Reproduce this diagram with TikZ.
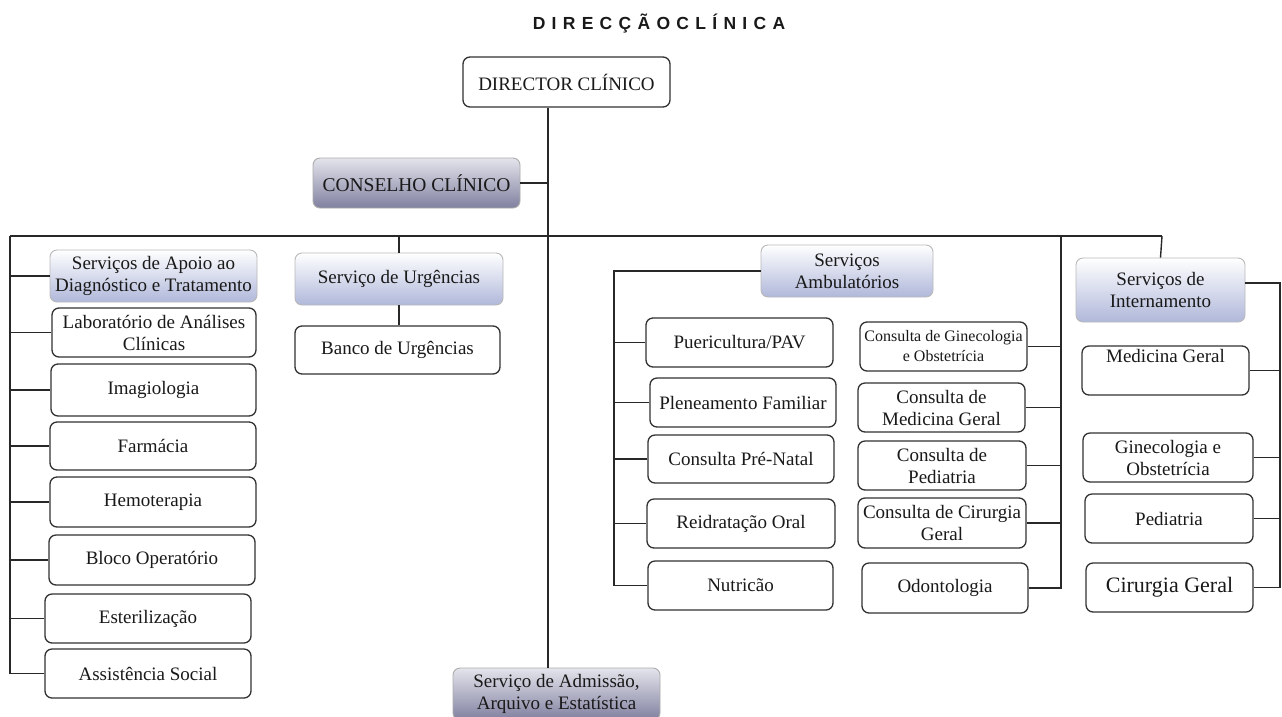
\documentclass[tikz,border=0pt]{standalone}
\usepackage{fontspec}
\setmainfont{Liberation Serif}
\newfontfamily\titlefont[LetterSpace=36]{Liberation Sans}
\definecolor{boxc}{RGB}{50,50,50}
\definecolor{linec}{RGB}{40,40,40}
\definecolor{txtc}{RGB}{25,25,25}
\definecolor{shadeL}{RGB}{176,184,218}
\definecolor{shadeDtop}{RGB}{228,228,236}
\definecolor{shadeD}{RGB}{128,128,160}
\tikzset{
  box/.style={draw=boxc, line width=1.3pt, rounded corners=7pt, fill=white,
    align=center, text=txtc, font=\fontsize{19}{22}\selectfont, inner sep=2pt},
  shlight/.style={box, draw=gray!55, line width=0.9pt, top color=white, bottom color=shadeL},
  shdark/.style={box, draw=gray!65, line width=0.9pt, top color=shadeDtop, bottom color=shadeD},
  conn/.style={draw=linec, line width=1.4pt},
}
\begin{document}
\begin{tikzpicture}[x=1pt,y=-1pt]
\useasboundingbox (0,0) rectangle (1282,716);
\clip (0,0) rectangle (1282,716);
\fill[white] (0,0) rectangle (1282,716);

% title
\node[text=txtc, font=\titlefont\bfseries\fontsize{17.5}{19}\selectfont] (title) at (659,24) {DIRECÇÃOCLÍNICA};

% top
\node[box, minimum width=207pt, minimum height=50pt] (director) at (566.5,82) {DIRECTOR CLÍNICO};
\node[shdark, minimum width=207pt, minimum height=50pt, font=\fontsize{19.5}{22}\selectfont] (conselho) at (416.5,183) {CONSELHO CLÍNICO};
\node[shdark, minimum width=207pt, minimum height=52pt] (admissao) at (556.5,694) {Serviço de Admissão,\\Arquivo e Estatística};

% coordinates for the trunk and bus
\coordinate (spine) at (548,236);
\coordinate (busL) at (10,236);
\coordinate (busR) at (1162,236);
\coordinate (ambL) at (614,271);
\coordinate (ambR) at (1061,236);
\coordinate (intR) at (1280,283);

% left column
\node[shlight, minimum width=207pt, minimum height=52pt] (apoio) at (153.5,276) {Serviços de Apoio ao\\Diagnóstico e Tratamento};
\node[box, minimum width=204pt, minimum height=49pt] (lab) at (154,332.5) {Laboratório de Análises\\Clínicas};
\node[box, minimum width=205pt, minimum height=52pt] (imagio) at (153.5,390) {Imagiologia};
\node[box, minimum width=206pt, minimum height=48pt] (farm) at (153,446) {Farmácia};
\node[box, minimum width=206pt, minimum height=50pt] (hemo) at (153,502) {Hemoterapia};
\node[box, minimum width=206pt, minimum height=50pt] (bloco) at (152,560) {Bloco Operatório};
\node[box, minimum width=206pt, minimum height=49pt] (ester) at (148,618.5) {Esterilização};
\node[box, minimum width=206pt, minimum height=49pt] (assist) at (148,673.5) {Assistência Social};

% urgencias
\node[shlight, minimum width=208pt, minimum height=52pt] (urg) at (399,279) {Serviço de Urgências};
\node[box, minimum width=205pt, minimum height=48pt] (banco) at (397.5,350) {Banco de Urgências};

% ambulatorios
\node[shlight, minimum width=172pt, minimum height=52pt] (amb) at (847,271) {Serviços\\Ambulatórios};
\node[box, minimum width=187pt, minimum height=49pt] (puer) at (739.5,342.5) {Puericultura/PAV};
\node[box, minimum width=186pt, minimum height=49pt] (plen) at (743,402.5) {Pleneamento Familiar};
\node[box, minimum width=186pt, minimum height=48pt] (pren) at (741,459) {Consulta Pré-Natal};
\node[box, minimum width=188pt, minimum height=49pt] (reid) at (741,523.5) {Reidratação Oral};
\node[box, minimum width=185pt, minimum height=49pt] (nutr) at (740.5,585.5) {Nutricão};

\node[box, minimum width=167pt, minimum height=49pt, font=\fontsize{16}{20}\selectfont] (cgin) at (943.5,346.5) {Consulta de Ginecologia\\e Obstetrícia};
\node[box, minimum width=167pt, minimum height=49pt] (cmed) at (941.5,407.5) {Consulta de\\Medicina Geral};
\node[box, minimum width=168pt, minimum height=49pt] (cped) at (942,465.5) {Consulta de\\Pediatria};
\node[box, minimum width=168pt, minimum height=50pt] (ccir) at (942,523) {Consulta de Cirurgia\\Geral};
\node[box, minimum width=166pt, minimum height=50pt] (odon) at (945,588) {Odontologia};

% internamento
\node[shlight, minimum width=169pt, minimum height=64pt] (intern) at (1160.5,290) {Serviços de\\Internamento};
\node[box, minimum width=167pt, minimum height=49pt] (medg) at (1165.5,370.5) {Medicina Geral\\\strut};
\node[box, minimum width=170pt, minimum height=49pt] (gin) at (1168,457.5) {Ginecologia e\\Obstetrícia};
\node[box, minimum width=168pt, minimum height=49pt] (ped) at (1169,518.5) {Pediatria};
\node[box, minimum width=167pt, minimum height=49pt, font=\fontsize{22}{24}\selectfont] (cir) at (1169.5,587.5) {Cirurgia Geral};

% ---- connectors ----
\draw[conn] (director.south -| spine) -- (admissao.north -| spine);
\draw[conn] (conselho.east) -- (conselho.east -| spine);
\draw[conn] (busL) -- (busR);

% left column
\draw[conn] (busL) |- (assist.west);
\foreach \n in {apoio,lab,imagio,farm,hemo,bloco,ester}
  \draw[conn] (\n.west -| busL) -- (\n.west);

% urgencias
\draw[conn] (urg.north |- busL) -- (urg.north);
\draw[conn] (urg.south) -- (urg.south |- banco.north);

% ambulatorios left
\draw[conn] (amb.west) -- (ambL) |- (nutr.west);
\foreach \n in {puer,plen,pren,reid}
  \draw[conn] (\n.west -| ambL) -- (\n.west);

% ambulatorios right
\draw[conn] (ambR) |- (odon.east);
\foreach \n in {cgin,cmed,cped,ccir}
  \draw[conn] (\n.east) -- (\n.east -| ambR);

% internamento
\draw[conn] (busR) -- (intern.north);
\draw[conn] ([yshift=7pt]intern.east) -- (intR) |- (cir.east);
\foreach \n in {medg,gin,ped}
  \draw[conn] (\n.east) -- (\n.east -| intR);
\end{tikzpicture}
\end{document}
